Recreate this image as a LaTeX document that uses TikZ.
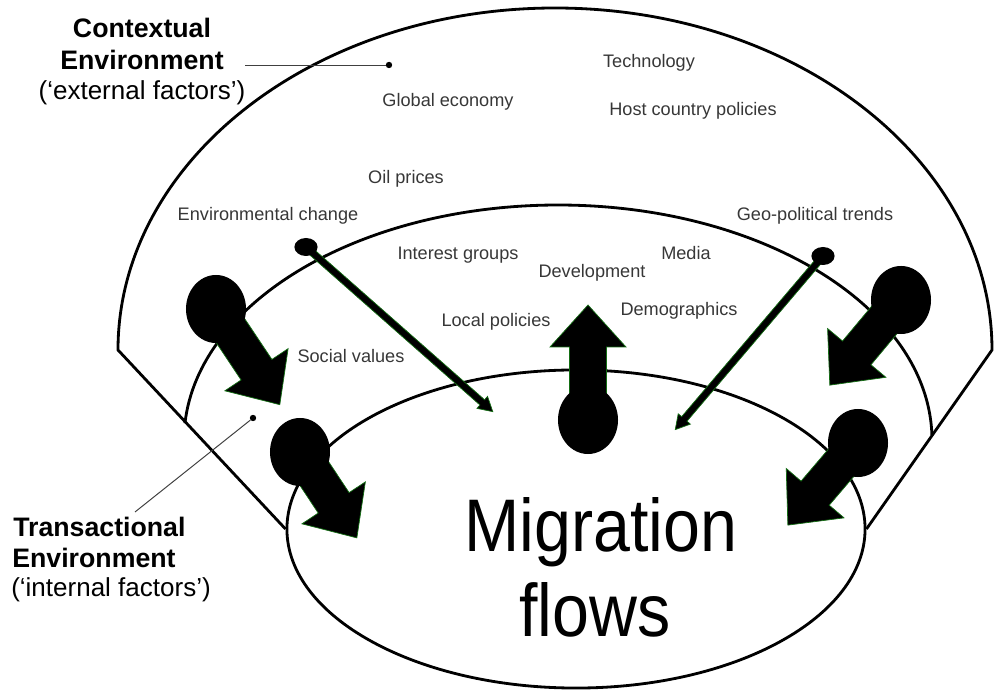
\documentclass[tikz,border=0pt]{standalone}
\usepackage{fontspec}
\setmainfont{Liberation Sans}
\newfontfamily\bigflowfont[FakeStretch=0.89]{Liberation Sans}
\usepackage{tikz}
\usetikzlibrary{shapes.geometric,positioning}
\definecolor{labelgray}{RGB}{55,55,55}
\definecolor{edgegreen}{RGB}{20,110,20}

\begin{document}
\begin{tikzpicture}[
    x=0.025cm, y=0.025cm,
    outline/.style={draw=black, line width=2pt},
    factor/.style={anchor=base, text=labelgray, font=\fontsize{12.9}{15}\selectfont, inner sep=0pt},
    envlabel/.style={anchor=base, font=\fontsize{18.5}{22}\selectfont, inner sep=0pt},
    envtitle/.style={envlabel, font=\fontsize{19}{22}\selectfont\bfseries},
    ball/.style={ellipse, fill=black, inner sep=0pt, minimum width=1.5cm, minimum height=1.7cm},
    smallball/.style={ellipse, fill=black, inner sep=0pt, minimum width=0.58cm, minimum height=0.45cm},
    dot/.style={circle, fill=black, inner sep=0pt, minimum size=0.16cm},
    leader/.style={draw=black!75, line width=0.7pt},
    flow/.style={fill=black, draw=edgegreen, line width=0.5pt, line join=miter}
]

\useasboundingbox (0,0) rectangle (995,691);

% Migration flows and the two environments round it
\node[ellipse, outline, minimum width=14.45cm, minimum height=7.95cm] (mig) at (576,162) {};
\draw[outline] (mig.west) -- (118,341) arc[start angle=180, end angle=0, x radius=437, y radius=342] -- (mig.east);
\draw[outline] (558,251) ++(1.2:374 and 235) arc[start angle=1.2, end angle=175.9, x radius=374, y radius=235];

% Environment labels
\node[envtitle] (ctxname) at (142,653) {Contextual};
\node[envtitle] (ctxenv) at (142,621) {Environment};
\node[envlabel] (ctxsub) at (142,591) {(`external factors')};
\node[dot] (ctxdot) at (389,626) {};
\coordinate (ctxline) at (245,626);
\draw[leader] (ctxline) -- (ctxdot);

\node[envtitle, anchor=base west] (trname) at (13,154) {Transactional};
\node[envtitle, anchor=base west] (trenv) at (12,123) {Environment};
\node[envlabel, anchor=base west] (trsub) at (11,94) {(`internal factors')};
\node[dot] (trdot) at (253,273) {};
\coordinate (trline) at (135,179);
\draw[leader] (trline) -- (trdot);

% External factors
\node[factor] (tech) at (649,623) {Technology};
\node[factor] (globeco) at (448,584) {Global economy};
\node[factor] (hostpol) at (693,575) {Host country policies};
\node[factor] (oil) at (406,507) {Oil prices};
\node[factor] (envchange) at (268,470) {Environmental change};
\node[factor] (geopoltxt) at (815,470) {Geo-political trends};

% Internal factors
\node[factor] (interest) at (458,431) {Interest groups};
\node[factor] (devel) at (592,413) {Development};
\node[factor] (media) at (686,431) {Media};
\node[factor] (demog) at (679,375) {Demographics};
\node[factor] (localpol) at (496,364) {Local policies};
\node[factor] (social) at (351,328) {Social values};

% Migration flows text
\node[anchor=base, font=\bigflowfont\fontsize{53}{60}\selectfont, inner sep=0pt] (migtext) at (601,139) {Migration};
\node[anchor=base, font=\bigflowfont\fontsize{53}{60}\selectfont, inner sep=0pt] (flowtext) at (595,54) {flows};

% Big ball arrows
\coordinate (tl) at (216,382);
\coordinate (bl) at (300,239);
\coordinate (up) at (588,271);
\coordinate (ur) at (901,391);
\coordinate (lr) at (858,248);
\foreach \src/\ang/\len in {tl/-56.3/115, bl/-56.5/103, up/90/115, ur/-129.9/111, lr/-130.5/108}{
  \begin{scope}[shift={(\src)}, rotate=\ang]
    \filldraw[flow] (0,-18.5) -- ({\len-42},-18.5) -- ({\len-42},-38) -- (\len,0) -- ({\len-42},38) -- ({\len-42},18.5) -- (0,18.5) -- cycle;
  \end{scope}
  \node[ball] (\src-ball) at (\src) {};
}

% Thin ball arrows
\coordinate (envch) at (306,444);
\coordinate (geopol) at (823,435);
\foreach \src/\ang/\len in {envch/-41.4/249, geopol/-130.4/228}{
  \begin{scope}[shift={(\src)}, rotate=\ang]
    \filldraw[flow] (0,-3.5) -- ({\len-14},-3.5) -- ({\len-14},-8) -- (\len,0) -- ({\len-14},8) -- ({\len-14},3.5) -- (0,3.5) -- cycle;
  \end{scope}
  \node[smallball] (\src-ball) at (\src) {};
}

\end{tikzpicture}
\end{document}
